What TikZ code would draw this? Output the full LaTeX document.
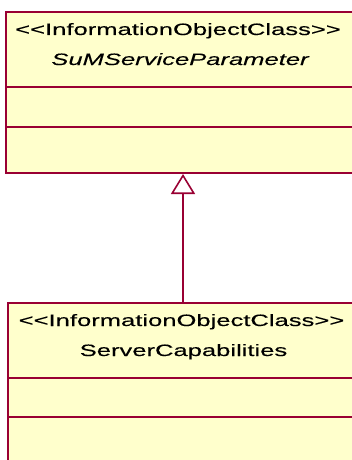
\documentclass[tikz,border=0pt]{standalone}
\usepackage{fontspec}
\setmainfont{Liberation Sans}[FakeStretch=1.55, Ligatures=TeXOff, FakeBold=0.1]
\usetikzlibrary{arrows.meta}
\definecolor{umlborder}{RGB}{153,0,51}
\definecolor{umlfill}{RGB}{255,255,204}
\tikzset{
  umlbox/.style={draw=umlborder, fill=umlfill, line width=2pt, inner sep=0pt, rectangle, anchor=north west},
  divider/.style={draw=umlborder, line width=1.6pt},
  lbl/.style={inner sep=0pt, anchor=base, text=black, font=\fontsize{16.5}{16.5}\selectfont},
  gen/.style={draw=umlborder, line width=1.6pt, -{Triangle[open, length=20pt, width=24pt, line width=1.6pt]}}
}
\begin{document}
\begin{tikzpicture}[x=1pt, y=-1pt]
\useasboundingbox (0,0) rectangle (352,460);
\clip (0,0) rectangle (352,460);
% top class
\node[umlbox, minimum width=354pt, minimum height=161pt] (sup) at (5,11) {};
\draw[divider] (5,87) -- (359,87);
\draw[divider] (5,127) -- (359,127);
\node[lbl] (supst) at (178,35) {<<InformationObjectClass>>};
\node[lbl, font=\fontsize{16.5}{16.5}\selectfont\itshape] (supname) at (180,65) {SuMServiceParameter};
% bottom class
\node[umlbox, minimum width=350pt, minimum height=170pt] (sub) at (7,302) {};
\draw[divider] (7,378) -- (357,378);
\draw[divider] (7,417) -- (357,417);
\node[lbl] (subst) at (181.5,326) {<<InformationObjectClass>>};
\node[lbl] (subname) at (183.5,356) {ServerCapabilities};
% generalization
\draw[gen] (sub.north) -- (sup.south);
\end{tikzpicture}
\end{document}
